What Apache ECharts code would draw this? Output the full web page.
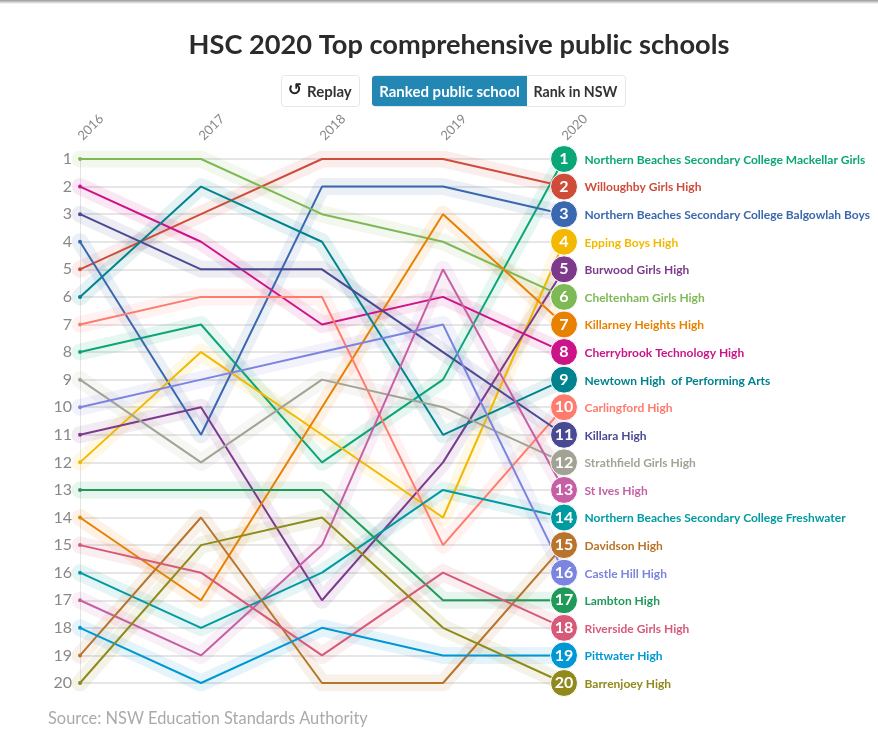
<!DOCTYPE html>
<html>
<head>
<meta charset="utf-8">
<title>HSC 2020 Top comprehensive public schools</title>
<style>
html, body { margin: 0; padding: 0; background: #fff; }
#chart { width: 878px; height: 734px; }
</style>
<script src="https://cdn.jsdelivr.net/npm/echarts@6/dist/echarts.min.js"></script>
</head>
<body>
<div id="chart"></div>
<script>
const years = ['2016', '2017', '2018', '2019', '2020'];
const rankNumbers = ['1', '2', '3', '4', '5', '6', '7', '8', '9', '10', '11', '12', '13', '14', '15', '16', '17', '18', '19', '20'];

const schools = [
    'Northern Beaches Secondary College Mackellar Girls',
    'Willoughby Girls High',
    'Northern Beaches Secondary College Balgowlah Boys',
    'Epping Boys High',
    'Burwood Girls High',
    'Cheltenham Girls High',
    'Killarney Heights High',
    'Cherrybrook Technology High',
    'Newtown High  of Performing Arts',
    'Carlingford High',
    'Killara High',
    'Strathfield Girls High',
    'St Ives High',
    'Northern Beaches Secondary College Freshwater',
    'Davidson High',
    'Castle Hill High',
    'Lambton High',
    'Riverside Girls High',
    'Pittwater High',
    'Barrenjoey High'
];

// one rank per school, same order as schools
const rank2016 = [8, 5, 4, 12, 11, 1, 14, 2, 6, 7, 3, 9, 17, 16, 19, 10, 13, 15, 18, 20];
const rank2017 = [7, 3, 11, 8, 10, 1, 17, 4, 2, 6, 5, 12, 19, 18, 14, 9, 13, 16, 20, 15];
const rank2018 = [12, 1, 2, 11, 17, 3, 10, 7, 4, 6, 5, 9, 15, 16, 20, 8, 13, 19, 18, 14];
const rank2019 = [9, 1, 2, 14, 12, 4, 3, 6, 11, 15, 8, 10, 5, 13, 20, 7, 17, 16, 19, 18];
const rank2020 = [1, 2, 3, 4, 5, 6, 7, 8, 9, 10, 11, 12, 13, 14, 15, 16, 17, 18, 19, 20];

const colors = [
    '#0ba678', '#cf4c3b', '#3a68ae', '#f2b900', '#7d3a8c',
    '#7fb956', '#e88000', '#cc1489', '#00838f', '#ff7b6e',
    '#4a4a94', '#a3a395', '#c560a5', '#009ba0', '#b8742a',
    '#7b84de', '#1f9a58', '#d65a78', '#0098d4', '#90891c'
];

const fontFamily = 'Lato, "Noto Sans", sans-serif';

let series = [];

// wide pale band behind each line
schools.forEach((name, i) => {
    series.push({
        type: 'line',
        silent: true,
        data: [rank2016[i], rank2017[i], rank2018[i], rank2019[i], rank2020[i]],
        showSymbol: false,
        lineStyle: { color: colors[i], width: 17, opacity: 0.1, cap: 'round', join: 'round' },
        z: 2
    });
});

schools.forEach((name, i) => {
    series.push({
        name: name,
        type: 'line',
        silent: true,
        data: [rank2016[i], rank2017[i], rank2018[i], rank2019[i], rank2020[i]],
        showAllSymbol: true,
        symbol: 'circle',
        symbolSize: (value, params) => (params.dataIndex === 0 ? 4 : 0),
        itemStyle: { color: colors[i] },
        lineStyle: { color: colors[i], width: 2 },
        z: 3
    });
});

// rank badges at the last year
series.push({
    type: 'scatter',
    silent: true,
    symbolSize: 27,
    data: schools.map((name, i) => ({
        value: ['2020', rank2020[i]],
        itemStyle: { color: colors[i], opacity: 1, borderColor: '#fff', borderWidth: 1 }
    })),
    label: {
        show: true,
        position: 'inside',
        formatter: (p) => rankNumbers[p.dataIndex],
        color: '#fff',
        fontFamily: fontFamily,
        fontWeight: 'bold',
        fontSize: 16
    },
    z: 5
});

// school names to the right of the badges
series.push({
    type: 'scatter',
    silent: true,
    symbolSize: 1,
    itemStyle: { color: 'transparent', opacity: 1 },
    data: schools.map((name, i) => ({
        value: ['2020', rank2020[i]],
        label: { color: colors[i] }
    })),
    label: {
        show: true,
        position: 'right',
        distance: 20,
        offset: [0, 1],
        formatter: (p) => schools[p.dataIndex],
        fontFamily: fontFamily,
        fontWeight: 'bold',
        fontSize: 12
    },
    z: 5
});

let chart = echarts.init(document.getElementById('chart'), null, { renderer: 'canvas' });

chart.setOption({
    animation: false,
    textStyle: { fontFamily: fontFamily },
    title: [
        {
            text: 'HSC 2020 Top comprehensive public schools',
            left: 454,
            top: 27,
            textAlign: 'center',
            textStyle: { fontFamily: fontFamily, fontWeight: 'bold', fontSize: 27.2, color: '#2b2b2b' }
        },
        {
            text: 'Source: NSW Education Standards Authority',
            left: 43,
            top: 706,
            textStyle: { fontFamily: fontFamily, fontWeight: 'normal', fontSize: 16.4, color: '#aaa' }
        }
    ],
    grid: { left: 80, right: 314, top: 159, bottom: 51, containLabel: false },
    xAxis: {
        type: 'category',
        position: 'top',
        data: years,
        boundaryGap: false,
        axisLine: { show: false },
        axisTick: { show: false },
        splitLine: { show: false },
        axisLabel: { rotate: -45, margin: 21, color: '#888', fontSize: 13, fontFamily: fontFamily }
    },
    yAxis: {
        type: 'value',
        inverse: true,
        min: 1,
        max: 20,
        interval: 1,
        axisLine: { show: true, lineStyle: { color: '#e4e4e4', width: 1 } },
        axisTick: { show: false },
        splitLine: { show: true, lineStyle: { color: '#e6e6e6', width: 2 } },
        axisLabel: { margin: 8, padding: [2, 0, 0, 0], color: '#888', fontSize: 16, fontFamily: fontFamily }
    },
    graphic: [
        {
            type: 'rect',
            shape: { x: 0, y: 0, width: 878, height: 4 },
            style: {
                fill: new echarts.graphic.LinearGradient(0, 0, 0, 1, [
                    { offset: 0, color: '#999' },
                    { offset: 1, color: '#fff' }
                ])
            }
        },
        {
            type: 'rect',
            shape: { x: 281.5, y: 75.5, width: 78, height: 31, r: 3 },
            style: { fill: '#fff', stroke: '#e6e6e6', lineWidth: 1 }
        },
        {
            type: 'text',
            x: 295,
            y: 91,
            style: { text: '\u21BA', fill: '#222', font: 'bold 17px "DejaVu Sans"', textAlign: 'center', textVerticalAlign: 'middle' }
        },
        {
            type: 'text',
            x: 307,
            y: 92,
            style: { text: 'Replay', fill: '#333', font: 'bold 15px ' + fontFamily, textVerticalAlign: 'middle' }
        },
        {
            type: 'rect',
            shape: { x: 372.5, y: 75.5, width: 253, height: 31, r: 3 },
            style: { fill: '#fff', stroke: '#e6e6e6', lineWidth: 1 }
        },
        {
            type: 'rect',
            shape: { x: 372, y: 76, width: 155, height: 30, r: [3, 0, 0, 3] },
            style: { fill: '#2287b3' }
        },
        {
            type: 'text',
            x: 449.5,
            y: 92,
            style: { text: 'Ranked public school', fill: '#fff', font: 'bold 15px ' + fontFamily, textAlign: 'center', textVerticalAlign: 'middle' }
        },
        {
            type: 'text',
            x: 575.5,
            y: 92,
            style: { text: 'Rank in NSW', fill: '#333', font: 'bold 14.2px ' + fontFamily, textAlign: 'center', textVerticalAlign: 'middle' }
        }
    ],
    series: series
});
</script>
</body>
</html>
